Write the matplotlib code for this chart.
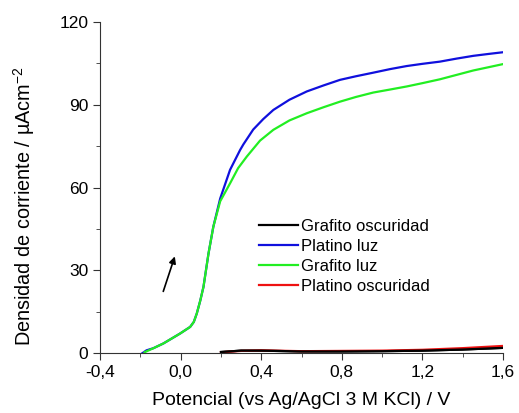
import matplotlib
matplotlib.use("Agg")
import matplotlib.pyplot as plt
from matplotlib.ticker import MultipleLocator

plt.rcParams['font.family'] = ['Liberation Sans', 'DejaVu Sans']
plt.rcParams['mathtext.fontset'] = 'custom'
plt.rcParams['mathtext.rm'] = 'Liberation Sans'
plt.rcParams['mathtext.it'] = 'Liberation Sans'

# Platino luz (blue)
pl_x = [-0.19, -0.17, -0.135, -0.086, -0.003, 0.047, 0.065, 0.080, 0.097, 0.113, 0.138,
        0.162, 0.196, 0.245, 0.295, 0.311, 0.36, 0.41, 0.46, 0.54, 0.626, 0.71, 0.791,
        0.87, 0.956, 1.04, 1.122, 1.2, 1.287, 1.37, 1.453, 1.53, 1.6]
pl_y = [0.0, 1.0, 1.8, 3.5, 7.1, 9.5, 11.3, 14.4, 19.0, 24.0, 36.1,
        45.8, 56.0, 66.4, 73.6, 75.6, 81.0, 84.8, 88.1, 91.8, 94.8, 97.0, 99.0,
        100.3, 101.6, 102.9, 104.0, 104.8, 105.6, 106.7, 107.7, 108.4, 109.0]

# Grafito luz (green)
gl_x = [-0.18, -0.135, -0.086, -0.003, 0.047, 0.065, 0.080, 0.097, 0.113, 0.138, 0.162,
        0.196, 0.245, 0.285, 0.328, 0.394, 0.46, 0.54, 0.626, 0.71, 0.791, 0.87, 0.956,
        1.04, 1.122, 1.2, 1.287, 1.37, 1.453, 1.53, 1.6]
gl_y = [0.3, 1.8, 3.5, 7.1, 9.5, 11.3, 14.4, 19.0, 24.0, 36.1, 45.8,
        55.0, 61.5, 67.0, 71.2, 77.0, 80.9, 84.3, 86.9, 89.1, 91.1, 92.8, 94.4,
        95.5, 96.6, 97.8, 99.2, 100.8, 102.4, 103.6, 104.7]

# Grafito oscuridad (black)
go_x = [0.2, 0.3, 0.4, 0.6, 0.8, 1.0, 1.2, 1.4, 1.6]
go_y = [0.4, 0.9, 0.9, 0.6, 0.6, 0.7, 0.9, 1.3, 1.9]

# Platino oscuridad (red)
po_x = [0.2, 0.3, 0.4, 0.6, 0.8, 1.0, 1.2, 1.4, 1.6]
po_y = [0.3, 0.8, 1.0, 0.7, 0.8, 0.9, 1.2, 1.8, 2.6]

xticks = [-0.4, 0.0, 0.4, 0.8, 1.2, 1.6]
xtick_labels = ['-0,4', '0,0', '0,4', '0,8', '1,2', '1,6']
yticks = [0, 30, 60, 90, 120]

fig = plt.figure(figsize=(5.19, 4.13), dpi=100)
ax = fig.add_axes([0.193, 0.145, 0.776, 0.802])

ax.plot(go_x, go_y, color='black', lw=1.6, label='Grafito oscuridad')
ax.plot(pl_x, pl_y, color='#1010dd', lw=1.6, label='Platino luz')
ax.plot(gl_x, gl_y, color='#22ee22', lw=1.6, label='Grafito luz')
ax.plot(po_x, po_y, color='#ee1111', lw=1.6, label='Platino oscuridad')
ax.plot(go_x, go_y, color='black', lw=1.6)

ax.annotate('', xy=(-0.025, 36), xytext=(-0.091, 21.4),
            arrowprops=dict(arrowstyle='-|>', color='black', lw=1.2, mutation_scale=10))

ax.set_xlim(-0.4, 1.6)
ax.set_ylim(0, 120)
ax.set_xticks(xticks)
ax.set_xticklabels(xtick_labels)
ax.set_yticks(yticks)
ax.xaxis.set_minor_locator(MultipleLocator(0.2))
ax.yaxis.set_minor_locator(MultipleLocator(15))
ax.tick_params(which='major', direction='out', length=5, labelsize=12.5, color='#333333')
ax.tick_params(which='minor', direction='out', length=3, color='#333333')

for s in ['top', 'right']:
    ax.spines[s].set_visible(False)
for s in ['left', 'bottom']:
    ax.spines[s].set_color('#333333')

ax.set_xlabel('Potencial (vs Ag/AgCl 3 M KCl) / V', fontsize=14, labelpad=9)
ax.set_ylabel('Densidad de corriente / µAcm$^{-2}$', fontsize=14.3)
ax.yaxis.set_label_coords(-0.156, 0.443)

ax.legend(loc='upper left', bbox_to_anchor=(0.373, 0.43), frameon=False, fontsize=12,
          handlelength=2.35, handletextpad=0.2, labelspacing=0.3, borderpad=0)

fig.savefig('out.png', dpi=100)
